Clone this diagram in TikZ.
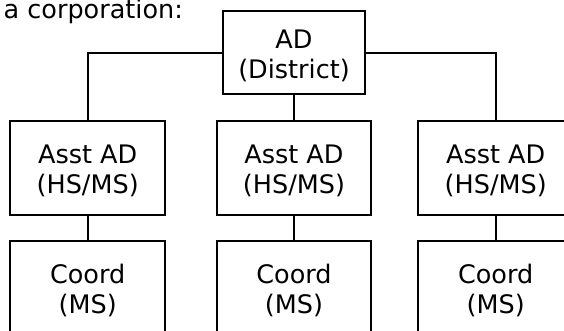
\documentclass[tikz,border=0pt]{standalone}
\usepackage{fontspec}
\setmainfont{DejaVu Sans}
\newcommand{\lowtxt}[1]{\raisebox{-4.5pt}[\height][\depth]{\begin{tabular}{@{}c@{}}#1\end{tabular}}}
\begin{document}
\begin{tikzpicture}[x=1pt,y=-1pt,
  every path/.style={line width=2pt},
  txt/.style={font=\fontsize{25.5}{30.5}\selectfont},
  box/.style={draw, line width=2pt, align=center, inner sep=0pt, fill=white, txt},
  adbox/.style={box, minimum width=142pt, minimum height=83.3pt},
  orgbox/.style={box, minimum width=154.7pt, minimum height=94.3pt}]
\useasboundingbox (0,0) rectangle (564,331);
\node[txt, anchor=base west, inner sep=0pt] (cap) at (2.7,18.8) {a corporation:};
\node[adbox] (ad) at (294,52.7) {\lowtxt{AD\\(District)}};
\node[orgbox] (a1) at (87.7,167.8) {\lowtxt{Asst AD\\(HS/MS)}};
\node[orgbox] (a2) at (294,167.8) {\lowtxt{Asst AD\\(HS/MS)}};
\node[orgbox] (a3) at (495.7,167.8) {\lowtxt{Asst AD\\(HS/MS)}};
\node[orgbox] (c1) at (87.7,287.9) {\lowtxt{Coord\\(MS)}};
\node[orgbox] (c2) at (294,287.9) {\lowtxt{Coord\\(MS)}};
\node[orgbox] (c3) at (495.7,287.9) {\lowtxt{Coord\\(MS)}};
\draw (ad.west) -| (a1.north);
\draw (ad.east) -| (a3.north);
\draw (ad.south) -- (a2.north);
\draw (a1.south) -- (c1.north);
\draw (a2.south) -- (c2.north);
\draw (a3.south) -- (c3.north);
\end{tikzpicture}
\end{document}
